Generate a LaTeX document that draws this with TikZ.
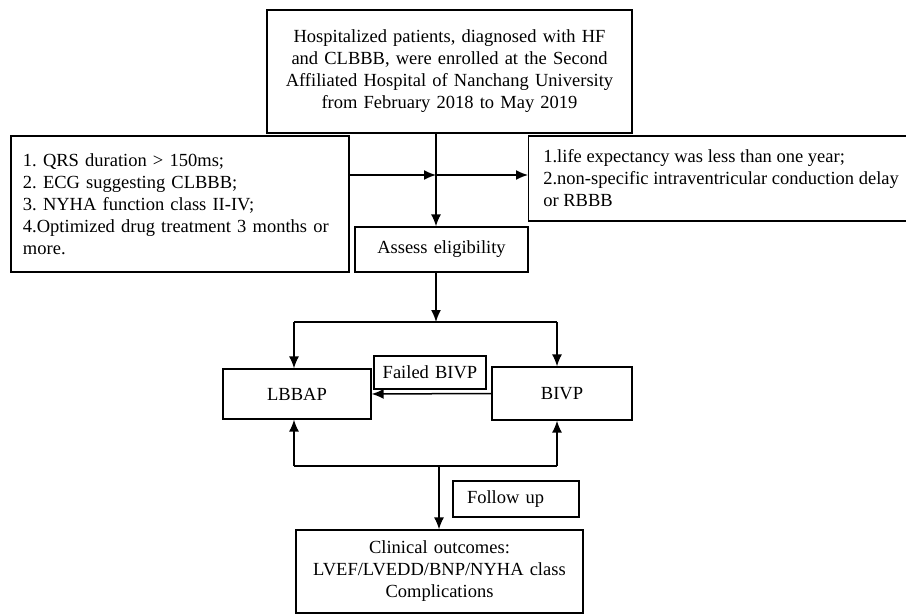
\documentclass[tikz,border=0pt]{standalone}
\usepackage{fontspec}
\setmainfont{Liberation Serif}
\usetikzlibrary{arrows.meta}

\begin{document}
\begin{tikzpicture}[x=1pt, y=-1pt, line width=1.5pt,
    box/.style = {draw, line width=1.2pt, inner sep=0pt, align=center,
                  font=\fontsize{18.5}{22}\selectfont\frenchspacing},
    lbox/.style = {box, inner xsep=12pt, align=left},
    arr/.style = {-{Latex[length=12pt, width=10pt]}}]
    \useasboundingbox (0,0) rectangle (906,615);
    % boxes
    \node[box] (top) at (449.5,71.5) [text width=365pt, minimum height=123pt]
        {Hospitalized patients, diagnosed with HF\\ and CLBBB, were enrolled at the Second\\
         Affiliated Hospital of Nanchang University\\ from February 2018 to May 2019};
    \node[lbox] (incl) at (180,204) [text width=314pt, minimum height=136pt]
        {1. QRS duration > 150ms;\\ 2. ECG suggesting CLBBB;\\ 3. NYHA function class II-IV;\\
         4.Optimized drug treatment 3 months or\\ more.};
    \node[box, align=left, anchor=west] (excl) at (528,178.5) [minimum width=385pt, minimum height=85pt]
        {1.life expectancy was less than one year;\\ 2.non-specific intraventricular conduction delay\\ or RBBB};
    \node[box] (assess) at (441.5,249.5) [text width=173pt, minimum height=45pt] {Assess eligibility};
    \node[box] (lbbap) at (297,394) [text width=148pt, minimum height=50pt] {LBBAP};
    \node[box] (failed) at (430,372.5) [text width=112pt, minimum height=33pt] {Failed BIVP};
    \node[box] (bivp) at (562,393.5) [text width=140pt, minimum height=53pt] {BIVP};
    \node[lbox] (follow) at (516,499) [inner xsep=14pt, text width=98pt, minimum height=36pt] {Follow up};
    \node[box] (outcome) at (439.5,571.5) [text width=287pt, minimum height=83pt]
        {Clinical outcomes:\\ LVEF/LVEDD/BNP/NYHA class\\ Complications};
    % junctions
    \coordinate (j) at (436,175);
    \coordinate (split) at (436,322);
    \coordinate (sl) at (294,322);
    \coordinate (sr) at (557,322);
    \coordinate (ml) at (294,466);
    \coordinate (mr) at (557,466);
    \coordinate (m) at (439,466);
    % connectors
    \draw[arr] (top.south -| j) -- (assess.north -| j);
    \draw[arr] (incl.east |- j) -- (j);
    \draw[arr] (j) -- (excl.west |- j);
    \draw[arr] (assess.south -| split) -- (split);
    \draw (sl) -- (sr);
    \draw[arr] (sl) -- (sl |- lbbap.north);
    \draw[arr] (sr) -- (sr |- bivp.north);
    \draw[arr] (bivp.west) -- (lbbap.east);
    \draw (ml) -- (mr);
    \draw[arr] (ml) -- (ml |- lbbap.south);
    \draw[arr] (mr) -- (mr |- bivp.south);
    \draw[arr] (m) -- (m |- outcome.north);
\end{tikzpicture}
\end{document}
